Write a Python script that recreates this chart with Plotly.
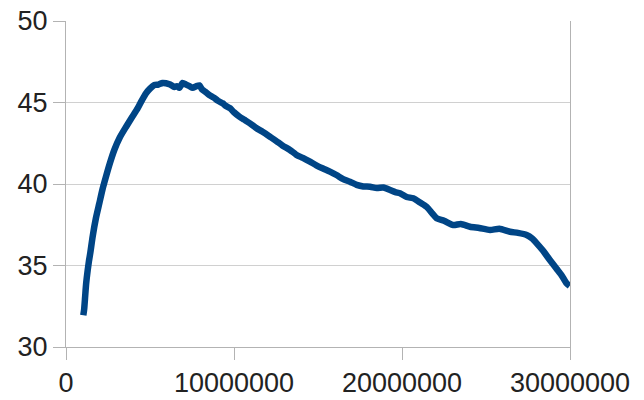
import plotly.graph_objects as go

x_millions = [1.03, 1.08, 1.14, 1.2, 1.29, 1.37, 1.45, 1.59, 1.78, 1.98, 2.18, 2.38, 2.62, 2.88, 3.2, 3.57, 3.9,
              4.27, 4.5, 4.76, 5.0, 5.26, 5.5, 5.75, 5.95, 6.2, 6.45, 6.6, 6.75, 6.94, 7.15, 7.35,
              7.54, 7.75, 7.94, 8.1, 8.3, 8.53, 8.8, 9.05, 9.33, 9.5, 9.76, 10.0, 10.3, 10.6, 10.95,
              11.3, 11.7, 12.14, 12.5, 12.9, 13.33, 13.7, 14.1, 14.52, 14.9, 15.3, 15.71, 16.1, 16.5,
              16.9, 17.3, 17.7, 18.1, 18.5, 18.9, 19.29, 19.6, 19.88, 20.28, 20.67, 21.1, 21.47, 21.8,
              22.06, 22.5, 23.05, 23.5, 24.05, 24.6, 25.24, 25.8, 26.43, 26.9, 27.42, 27.75, 28.02,
              28.4, 28.8, 29.2, 29.5, 29.8, 29.98]
y_values = [31.95, 32.3, 33.1, 33.9, 34.7, 35.3, 35.8, 36.8, 37.9, 38.8, 39.7, 40.45, 41.3, 42.1, 42.85, 43.5, 44.05,
            44.65, 45.1, 45.56, 45.85, 46.07, 46.1, 46.2, 46.18, 46.1, 45.95, 46.0, 45.9, 46.2, 46.1, 46.0,
            45.9, 46.0, 46.05, 45.8, 45.65, 45.46, 45.3, 45.1, 44.95, 44.8, 44.65, 44.4, 44.15, 43.95, 43.72,
            43.45, 43.2, 42.9, 42.65, 42.35, 42.09, 41.8, 41.6, 41.37, 41.15, 40.95, 40.76, 40.55, 40.3,
            40.14, 39.95, 39.85, 39.83, 39.75, 39.78, 39.63, 39.5, 39.43, 39.2, 39.12, 38.85, 38.6, 38.2,
            37.9, 37.75, 37.48, 37.55, 37.38, 37.3, 37.18, 37.25, 37.07, 37.0, 36.87, 36.65, 36.36,
            35.9, 35.34, 34.8, 34.4, 33.9, 33.75]
x_values = [v * 1e6 for v in x_millions]

x_ticks = [0, 10000000, 20000000, 30000000]
x_tick_labels = ["0", "10000000", "20000000", "30000000"]
y_ticks = [30, 35, 40, 45, 50]

fig = go.Figure()
fig.add_trace(go.Scatter(x=x_values, y=y_values, mode="lines",
                         line=dict(color="#004586", width=6.5, shape="spline", smoothing=0.6),
                         showlegend=False))

font = dict(family="Liberation Sans, Arial, sans-serif", size=27, color="#222222")
fig.update_layout(
    width=644, height=400,
    margin=dict(l=66, r=74, t=21, b=53),
    paper_bgcolor="white", plot_bgcolor="white",
    font=font,
    xaxis=dict(range=[0, 30000000], tickvals=x_ticks, ticktext=x_tick_labels, automargin=False,
               showgrid=False, zeroline=False, showline=True, linecolor="#b3b3b3", linewidth=1,
               ticks="outside", ticklen=12, tickcolor="#b3b3b3", tickfont=font),
    yaxis=dict(range=[30, 50], tickvals=y_ticks, showgrid=True, gridcolor="#d0d0d0", gridwidth=1,
               automargin=False,
               zeroline=False, showline=True, mirror=True, linecolor="#b3b3b3", linewidth=1,
               ticks="outside", ticklen=12, tickcolor="#b3b3b3", tickfont=font),
)
fig.write_html("out.html", config={"displayModeBar": False},
               post_script="document.body.style.margin='0';")
